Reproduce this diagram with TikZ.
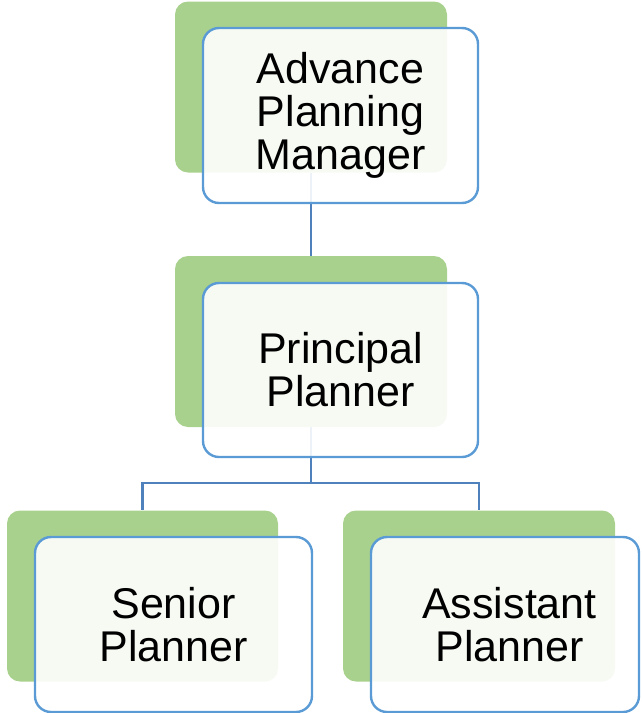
\documentclass[tikz,border=0pt]{standalone}
\usepackage{fontspec}
\setmainfont{Liberation Sans}
\usepackage{tikz}
\usetikzlibrary{positioning}
\definecolor{leaf}{RGB}{169,209,142}
\definecolor{edge}{RGB}{91,155,213}
\definecolor{link}{RGB}{79,129,189}
\tikzstyle{back} = [fill=leaf, rounded corners=13pt, minimum width=272pt,
minimum height=171pt, inner sep=0pt]
\tikzstyle{front} = [draw=edge, line width=2.4pt, fill=white, fill opacity=0.9,
text opacity=1, rounded corners=16pt, minimum width=275pt, minimum height=175pt,
align=center, font=\fontsize{43pt}{43pt}\selectfont]
\tikzstyle{line} = [draw, color=link, line width=2.6pt]

\begin{document}
\begin{tikzpicture}[x=1pt, y=-1pt]
	\useasboundingbox (0,0) rectangle (641,713);
	%% green backing cards
	\node [back] (mgrBack) at (311,87) {};
	\node [back] (prinBack) at (311,341.5) {};
	\node [back, minimum width=271pt] (senBack) at (142.5,596) {};
	\node [back] (astBack) at (479,596) {};
	\coordinate (split) at (311,483);
	%% Links
	\path [line] (mgrBack) -- (prinBack);
	\path [line] (prinBack.south) -- (split);
	\path [line] (split) -| (senBack.north);
	\path [line] (split) -| (astBack.north);
	%% titled cards
	\node [front] (mgr) at (340.5,115.5) {Advance\\Planning\\Manager};
	\node [front, minimum height=174pt] (prin) at (340.5,370) {Principal\\Planner};
	\node [front, minimum width=277pt] (sen) at (173.5,624.5) {Senior\\Planner};
	\node [front, minimum width=268pt] (ast) at (505,624.5) {\hspace*{9pt}Assistant\\\hspace*{9pt}Planner};
\end{tikzpicture}
\end{document}
